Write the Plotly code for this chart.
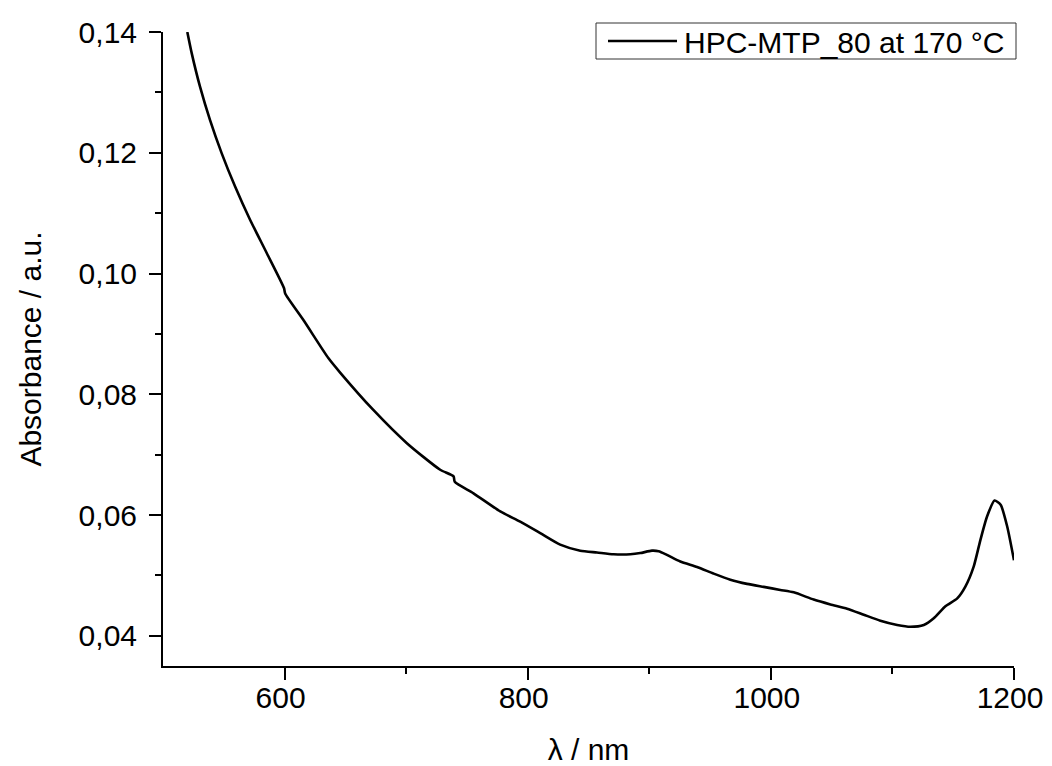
import plotly.graph_objects as go

wavelength = [520, 523.6, 530.5, 538.7, 548.3, 559.3, 571.6, 585.3, 599.5, 600.5, 615.5, 636,
              645.7, 673, 700.6, 728, 739, 740, 755.4, 777.4, 793.8, 810.3, 826.7, 843.2,
              857, 870.6, 884.4, 892.6, 902.2, 907.7, 914.5, 925.5, 939.3, 953, 966.7,
              980.4, 994.1, 1007.8, 1018.8, 1035.2, 1049, 1062.7, 1076.4, 1090.1, 1103.9,
              1114.8, 1125.8, 1134, 1143.6, 1153.3, 1160.1, 1166.9, 1172.4, 1177.9, 1184,
              1189, 1194.4, 1200]
absorbance = [0.1400, 0.1365, 0.1309, 0.1254, 0.1199, 0.1144, 0.1089, 0.1034, 0.0976,
              0.0967, 0.0923, 0.0860, 0.0836, 0.0774, 0.0719, 0.0675, 0.0664, 0.0655,
              0.0636, 0.0606, 0.0589, 0.0570, 0.0551, 0.0541, 0.0538, 0.0535, 0.0535,
              0.0537, 0.0541, 0.0540, 0.0534, 0.0523, 0.0514, 0.0503, 0.0493, 0.0486,
              0.0481, 0.0476, 0.0472, 0.0460, 0.0452, 0.0445, 0.0435, 0.0425, 0.0418,
              0.0415, 0.0418, 0.0429, 0.0449, 0.0462, 0.0482, 0.0515, 0.0559, 0.0598,
              0.0624, 0.0617, 0.0581, 0.0525]

series_name = "HPC-MTP_80 at 170 °C"
x_title = "λ / nm"
y_title = "Absorbance / a.u."

FONT = "Liberation Sans, Arial, sans-serif"
FS = 30

# the page body has an 8 px margin, so the figure is drawn 8 px smaller
OFF = 8
W, H = 1052 - OFF, 766 - OFF
ML, MR, MT, MB = 163 - OFF, 38, 32 - OFF, 100
PW, PH = W - ML - MR, H - MT - MB


def px_to_paper_x(px):
    return (px - OFF - ML) / PW


def px_to_paper_y(py):
    return (H - MB - (py - OFF)) / PH


fig = go.Figure()
fig.add_trace(go.Scatter(
    x=wavelength, y=absorbance, mode="lines", name=series_name, showlegend=False,
    line=dict(color="black", width=2.6, shape="spline", smoothing=0.6),
))

# legend box drawn as layout decoration (text stays real text)
fig.add_shape(type="rect", xref="paper", yref="paper",
              x0=px_to_paper_x(596), x1=px_to_paper_x(1016),
              y0=px_to_paper_y(59), y1=px_to_paper_y(23),
              line=dict(color="#333333", width=1), fillcolor="white", layer="above")
fig.add_shape(type="line", xref="paper", yref="paper",
              x0=px_to_paper_x(608), x1=px_to_paper_x(677),
              y0=px_to_paper_y(41), y1=px_to_paper_y(41),
              line=dict(color="black", width=2.6), layer="above")
fig.add_annotation(text=series_name, xref="paper", yref="paper",
                   x=px_to_paper_x(682), y=px_to_paper_y(42),
                   xanchor="left", yanchor="middle", showarrow=False,
                   font=dict(family=FONT, size=FS, color="black"))

fig.update_layout(
    width=W, height=H,
    margin=dict(l=ML, r=MR, t=MT, b=MB),
    paper_bgcolor="white", plot_bgcolor="white",
    separators=",.",
    font=dict(family=FONT, size=FS, color="black"),
    showlegend=False,
)

fig.update_xaxes(
    range=[500, 1200], tickmode="array", tickvals=[600, 800, 1000, 1200],
    ticks="outside", ticklen=12, tickwidth=2, tickcolor="black",
    showline=True, linewidth=2, linecolor="black", mirror=False,
    showgrid=False, zeroline=False, automargin=False,
    ticklabelstandoff=-8, ticklabelshift=-4,
    minor=dict(ticks="outside", ticklen=6, tickwidth=2, tickcolor="black",
               tickmode="array", tickvals=[700, 900, 1100], showgrid=False),
    title=dict(text=x_title, font=dict(family=FONT, size=FS), standoff=28),
    tickfont=dict(family=FONT, size=FS),
)
fig.update_yaxes(
    range=[0.035, 0.14], tickmode="array", tickvals=[0.04, 0.06, 0.08, 0.10, 0.12, 0.14],
    tickformat=".2f",
    ticks="outside", ticklen=12, tickwidth=2, tickcolor="black",
    showline=True, linewidth=2, linecolor="black", mirror=False,
    showgrid=False, zeroline=False, automargin=False,
    ticklabelstandoff=6,
    minor=dict(ticks="outside", ticklen=6, tickwidth=2, tickcolor="black",
               tickmode="array", tickvals=[0.05, 0.07, 0.09, 0.11, 0.13], showgrid=False),
    title=dict(text=y_title, font=dict(family=FONT, size=FS), standoff=28),
    tickfont=dict(family=FONT, size=FS),
)

fig.write_html("out.html")
